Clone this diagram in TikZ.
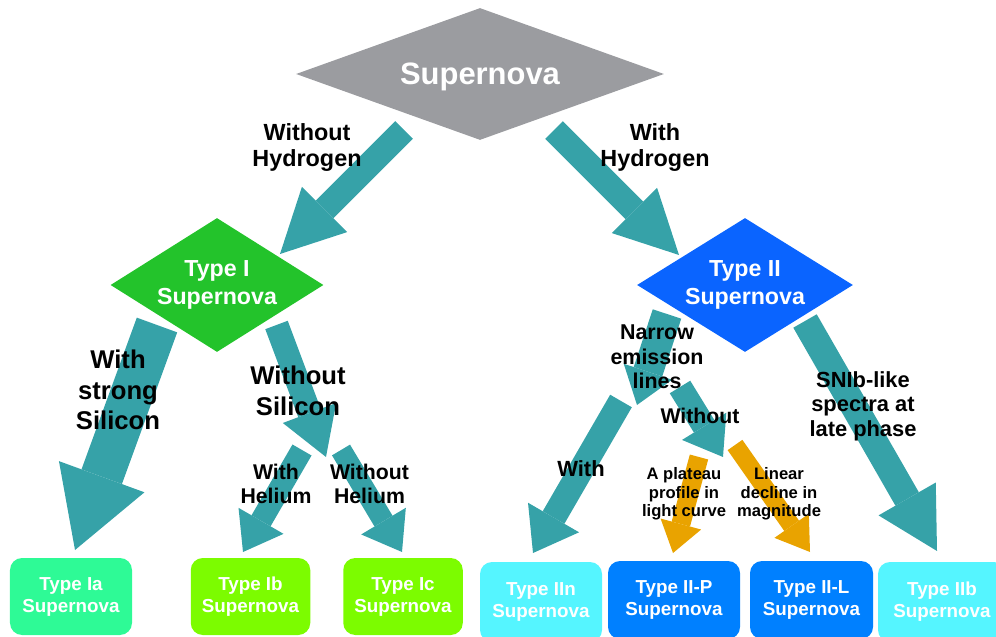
\documentclass[tikz,border=0pt]{standalone}
\usepackage{fontspec}
\setmainfont{Liberation Sans}
\usepackage{tikz}
\usetikzlibrary{shapes.geometric, arrows.meta}
\usepackage{xcolor}
\definecolor{sngray}{RGB}{155,156,160}
\definecolor{sngreen}{RGB}{35,195,43}
\definecolor{snblue}{RGB}{10,100,255}
\definecolor{snmint}{RGB}{46,250,150}
\definecolor{snlime}{RGB}{124,252,0}
\definecolor{sncyan}{RGB}{85,245,255}
\definecolor{snazure}{RGB}{0,128,255}
\definecolor{snteal}{RGB}{54,162,168}
\definecolor{snorange}{RGB}{233,163,0}

\begin{document}
\begin{tikzpicture}[
  dia/.style={diamond, inner sep=0pt, text=white, align=center},
  box/.style={rounded corners=0.24cm, inner sep=0pt, text=white, align=center, font=\fontsize{10.7}{12.5}\selectfont\bfseries},
  lbl/.style 2 args={align=center, inner sep=0pt, font=\fontsize{#1}{#2}\selectfont\bfseries},
  flow/.style n args={4}{draw=#1, line width=#2, -{Triangle[width=#3, length=#4, line width=0pt]}}
]
\useasboundingbox (0,0) rectangle (19.92,-12.74);

\node[dia, fill=sngray, aspect=2.79, minimum width=7.36cm, minimum height=2.64cm, text depth=0pt, font=\fontsize{17.6}{20}\selectfont\bfseries] (1) at (9.6,-1.48) {Supernova};
\node[dia, fill=sngreen, aspect=1.59, minimum width=4.26cm, minimum height=2.68cm, font=\fontsize{13.2}{15.9}\selectfont\bfseries] (2) at (4.34,-5.7) {Type I\\Supernova};
\node[dia, fill=snblue, aspect=1.61, minimum width=4.32cm, minimum height=2.68cm, font=\fontsize{13.2}{15.9}\selectfont\bfseries] (3) at (14.9,-5.7) {Type II\\Supernova};

\node[box, fill=snmint, minimum width=2.44cm, minimum height=1.54cm] (4) at (1.42,-11.93) {Type Ia\\Supernova};
\node[box, fill=snlime, minimum width=2.39cm, minimum height=1.54cm] (5) at (5.01,-11.93) {Type Ib\\Supernova};
\node[box, fill=snlime, minimum width=2.39cm, minimum height=1.54cm] (6) at (8.06,-11.93) {Type Ic\\Supernova};
\node[box, fill=sncyan, minimum width=2.44cm, minimum height=1.6cm] (7) at (10.82,-12.04) {Type IIn\\Supernova};
\node[box, fill=snazure, minimum width=2.64cm, minimum height=1.56cm] (8) at (13.48,-12.0) {Type II-P\\Supernova};
\node[box, fill=snazure, minimum width=2.46cm, minimum height=1.56cm] (9) at (16.23,-12.0) {Type II-L\\Supernova};
\node[box, fill=sncyan, minimum width=2.56cm, minimum height=1.6cm] (10) at (18.84,-12.04) {Type IIb\\Supernova};

\coordinate (t1) at (8.08,-2.6);   \coordinate (p1) at (5.6,-5.08);
\coordinate (t2) at (11.08,-2.6);  \coordinate (p2) at (13.58,-5.1);
\coordinate (t3) at (3.14,-6.5);   \coordinate (p3) at (1.5,-11.0);
\coordinate (t4) at (5.53,-6.5);   \coordinate (p4) at (6.52,-9.14);
\coordinate (t5) at (6.04,-9.0);   \coordinate (p5) at (4.86,-11.04);
\coordinate (t6) at (6.82,-9.0);   \coordinate (p6) at (8.04,-11.04);
\coordinate (t7) at (13.34,-6.28); \coordinate (p7) at (12.74,-8.1);
\coordinate (t8) at (13.6,-7.74);  \coordinate (p8) at (14.46,-9.14);
\coordinate (t9) at (12.42,-8.02); \coordinate (p9) at (10.66,-11.06);
\coordinate (t10) at (13.98,-9.14); \coordinate (p10) at (13.46,-11.06);
\coordinate (t11) at (14.7,-8.9);  \coordinate (p11) at (16.2,-11.04);
\coordinate (t12) at (16.1,-6.42); \coordinate (p12) at (18.74,-11.02);

\draw[flow={snteal}{0.5cm}{1.28cm}{1.26cm}] (t1) -- (p1);
\draw[flow={snteal}{0.5cm}{1.28cm}{1.26cm}] (t2) -- (p2);
\draw[flow={snteal}{0.86cm}{1.82cm}{1.56cm}] (t3) -- (p3);
\draw[flow={snteal}{0.48cm}{1.14cm}{0.94cm}] (t4) -- (p4);
\draw[flow={snteal}{0.44cm}{1.04cm}{0.72cm}] (t5) -- (p5);
\draw[flow={snteal}{0.42cm}{1.04cm}{0.72cm}] (t6) -- (p6);
\draw[flow={snteal}{0.6cm}{1.02cm}{0.7cm}] (t7) -- (p7);
\draw[flow={snteal}{0.48cm}{1.04cm}{0.72cm}] (t8) -- (p8);
\draw[flow={snteal}{0.5cm}{1.18cm}{0.82cm}] (t9) -- (p9);
\draw[flow={snorange}{0.38cm}{0.84cm}{0.6cm}] (t10) -- (p10);
\draw[flow={snorange}{0.36cm}{0.84cm}{0.64cm}] (t11) -- (p11);
\draw[flow={snteal}{0.54cm}{1.32cm}{1.2cm}] (t12) -- (p12);

\node[lbl={13.3}{14.8}] (11) at (6.14,-2.96) {Without\\Hydrogen};
\node[lbl={13.3}{14.8}] (12) at (13.1,-2.96) {With\\Hydrogen};
\node[lbl={14.6}{17.4}] (13) at (2.36,-7.8) {With\\strong\\Silicon};
\node[lbl={14.6}{17.4}] (14) at (5.96,-7.82) {Without\\Silicon};
\node[lbl={12.1}{13.7}] (15) at (5.52,-9.68) {With\\Helium};
\node[lbl={12.1}{13.7}] (16) at (7.39,-9.68) {Without\\Helium};
\node[lbl={12.2}{13.9}] (17) at (13.14,-7.14) {Narrow\\emission\\lines};
\node[lbl={12.1}{13.9}] (18) at (14.0,-8.32) {Without};
\node[lbl={12.5}{13.9}] (19) at (11.62,-9.38) {With};
\node[lbl={9.45}{10.5}] (20) at (13.68,-9.88) {A plateau\\profile in\\light curve};
\node[lbl={9.45}{10.5}] (21) at (15.58,-9.88) {Linear\\decline in\\magnitude};
\node[lbl={12.45}{13.9}] (22) at (17.26,-8.12) {SNIb-like\\spectra at\\late phase};
\end{tikzpicture}
\end{document}
